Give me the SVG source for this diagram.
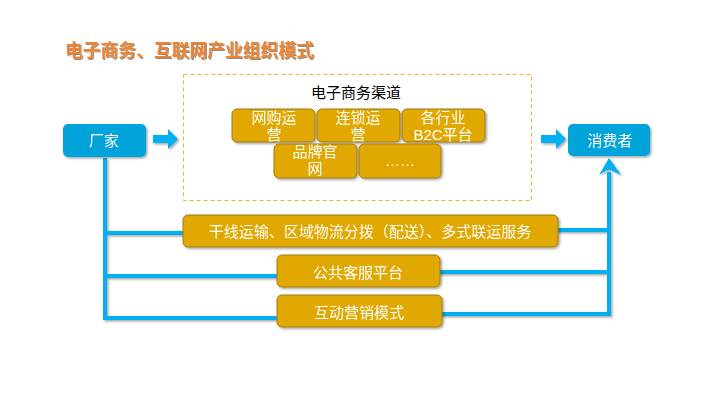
<svg xmlns="http://www.w3.org/2000/svg" width="703" height="400" viewBox="0 0 703 400">
<defs>
<filter id="sh" x="-20%" y="-20%" width="140%" height="160%">
<feDropShadow dx="1.5" dy="1.5" stdDeviation="1" flood-color="#000" flood-opacity="0.35"/>
</filter>
<filter id="tsh" x="-10%" y="-20%" width="120%" height="150%">
<feDropShadow dx="1" dy="1" stdDeviation="0.6" flood-color="#000" flood-opacity="0.45"/>
</filter>
<style>
text{font-family:"Liberation Sans","Noto Sans CJK SC",sans-serif;}
.gold{fill:#E0A800;stroke:#A27A12;stroke-width:1;}
.blue{fill:#05A3DA;}
.wt{fill:#fff;font-size:15px;text-anchor:middle;}
.ln{stroke:#00B0F0;stroke-width:4;fill:none;}
</style>
</defs>
<rect width="703" height="400" fill="#fff"/>
<text x="65" y="57" font-size="17.8" font-weight="bold" fill="#EE8433" filter="url(#tsh)">电子商务、互联网产业组织模式</text>

<g id="connectors" filter="url(#sh)">
<polyline class="ln" points="105,158 105,318 280,318"/>
<line class="ln" x1="105" y1="233" x2="186" y2="233"/>
<line class="ln" x1="105" y1="276" x2="280" y2="276"/>
<polyline class="ln" points="440,314 609,314 609,172"/>
<line class="ln" x1="556" y1="230" x2="609" y2="230"/>
<line class="ln" x1="438" y1="272" x2="609" y2="272"/>
<polygon points="599,175 609,158 621,175 611,170 607,170" fill="#00B0F0"/>
<polygon points="153,135 168,135 168,129 178,139 168,149 168,143 153,143" fill="#00B0F0"/>
<polygon points="541,135 556,135 556,129 566,139 556,149 556,143 541,143" fill="#00B0F0"/>
</g>

<g id="channel">
<rect x="183.5" y="74.5" width="348" height="126" fill="none" stroke="#F0B429" stroke-width="1" stroke-dasharray="4,3"/>
<text x="356" y="98" font-size="15" text-anchor="middle" fill="#000">电子商务渠道</text>
</g>

<g id="n1" filter="url(#sh)"><rect class="gold" x="232" y="109" width="83" height="33" rx="5"/>
<text class="wt" x="274" y="123">网购运</text><text class="wt" x="274" y="140">营</text></g>
<g id="n2" filter="url(#sh)"><rect class="gold" x="317" y="109" width="83" height="33" rx="5"/>
<text class="wt" x="358" y="123">连锁运</text><text class="wt" x="358" y="140">营</text></g>
<g id="n3" filter="url(#sh)"><rect class="gold" x="402" y="109" width="83" height="33" rx="5"/>
<text class="wt" x="443" y="123">各行业</text><text class="wt" x="443" y="140">B2C平台</text></g>
<g id="n4" filter="url(#sh)"><rect class="gold" x="274" y="144" width="83" height="34" rx="5"/>
<text class="wt" x="315" y="157">品牌官</text><text class="wt" x="315" y="174">网</text></g>
<g id="n5" filter="url(#sh)"><rect class="gold" x="359" y="144" width="82" height="34" rx="5"/>
<text class="wt" x="400" y="166">……</text></g>

<g id="factory" filter="url(#sh)"><rect class="blue" x="63" y="124" width="83" height="33" rx="5"/>
<text class="wt" x="104" y="146">厂家</text></g>
<g id="consumer" filter="url(#sh)"><rect class="blue" x="568" y="124" width="82" height="32" rx="5"/>
<text class="wt" x="610" y="146" font-size="16">消费者</text></g>

<g id="b1" filter="url(#sh)"><rect class="gold" x="183" y="215" width="375" height="32" rx="5"/>
<text class="wt" x="370" y="237" font-size="16">干线运输、区域物流分拨（配送）、多式联运服务</text></g>
<g id="b2" filter="url(#sh)"><rect class="gold" x="277" y="255" width="163" height="32" rx="5"/>
<text class="wt" x="358" y="278" font-size="16">公共客服平台</text></g>
<g id="b3" filter="url(#sh)"><rect class="gold" x="277" y="295" width="165" height="32" rx="5"/>
<text class="wt" x="359" y="318" font-size="16">互动营销模式</text></g>
</svg>
